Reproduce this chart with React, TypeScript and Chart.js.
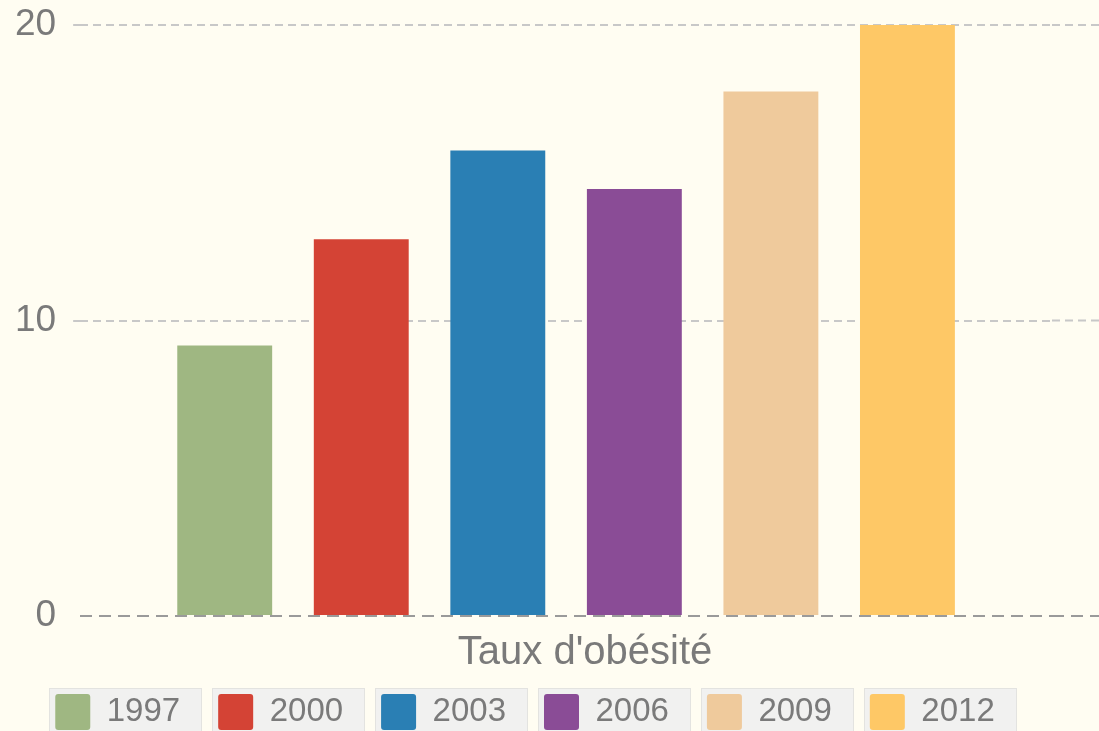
import React, { useEffect, useRef } from "react";
import { Chart, registerables } from "chart.js";

Chart.register(...registerables);

const categories = ["Taux d'obésité"];
const seriesYears = ["1997", "2000", "2003", "2006", "2009", "2012"];
const seriesValues = [9.15, 12.75, 15.75, 14.45, 17.75, 20.05];
const seriesColors = ["#9fb782", "#d44335", "#2a7fb4", "#8a4c96", "#efca9c", "#fec866"];
const yTicks = [0, 10, 20];

const BG = "#fffdf2";
const FONT = "'Liberation Sans', Arial, sans-serif";

const bgPlugin = {
  id: "bgAndLegendBoxes",
  beforeDraw(chart: any) {
    const { ctx, width, height } = chart;
    ctx.save();
    ctx.fillStyle = BG;
    ctx.fillRect(0, 0, width, height);
    const legend = chart.legend;
    if (legend && legend.legendHitBoxes) {
      legend.legendHitBoxes.forEach((hb: any) => {
        const x = Math.round(hb.left - 6) + 0.5;
        const y = Math.round(hb.top - 6) + 0.5;
        const w = Math.round(hb.width + 27);
        const h = height - y + 10;
        ctx.fillStyle = "#f1f1f0";
        ctx.fillRect(x, y, w, h);
        ctx.strokeStyle = "#e3e3e0";
        ctx.lineWidth = 1;
        ctx.strokeRect(x, y, w, h);
      });
    }
    ctx.restore();
  },
  afterDatasetsDraw(chart: any) {
    // continue the y grid lines to the right edge of the canvas
    const { ctx, chartArea, width } = chart;
    const yScale = chart.scales.y;
    ctx.save();
    yScale.ticks.forEach((t: any) => {
      const py = yScale.getPixelForValue(t.value);
      const isZero = t.value === 0;
      ctx.strokeStyle = isZero ? "#9a9a9a" : "#c8c8c8";
      ctx.lineWidth = 2;
      ctx.setLineDash(isZero ? [12, 7] : [8, 5]);
      ctx.beginPath();
      ctx.moveTo(chartArea.right, py);
      ctx.lineTo(width, py);
      ctx.stroke();
    });
    ctx.restore();
  },
};

export default function App() {
  const ref = useRef<HTMLCanvasElement | null>(null);

  useEffect(() => {
    if (!ref.current) return;
    const chart = new Chart(ref.current, {
      type: "bar",
      data: {
        labels: categories,
        datasets: seriesYears.map((year, i) => ({
          label: year,
          data: [seriesValues[i]],
          backgroundColor: seriesColors[i],
          borderWidth: 0,
        })),
      },
      options: {
        animation: false,
        responsive: false,
        maintainAspectRatio: false,
        layout: { padding: { left: -2, right: 47, top: 25, bottom: -9 } },
        datasets: {
          bar: { categoryPercentage: 0.843, barPercentage: 0.695 },
        },
        plugins: {
          legend: {
            position: "bottom",
            title: {
              display: true,
              text: "",
              font: { size: 10, lineHeight: 1 },
              padding: { top: 0, bottom: -44 },
            },
            labels: {
              boxWidth: 35,
              boxHeight: 36,
              padding: 38,
              color: "#7a7a7a",
              font: { family: FONT, size: 33 },
              useBorderRadius: true,
              borderRadius: 3,
            },
          },
          tooltip: { enabled: false },
        },
        scales: {
          x: {
            grid: { display: false, drawTicks: false },
            border: { display: false },
            ticks: {
              color: "#7a7a7a",
              padding: 36,
              labelOffset: 19,
              font: { family: FONT, size: 40, lineHeight: 0.05 },
            },
          },
          y: {
            min: 0,
            max: 20,
            afterBuildTicks: (scale: any) => {
              scale.ticks = yTicks.map((v) => ({ value: v }));
            },
            grid: {
              color: (ctx: any) => (ctx.tick && ctx.tick.value === 0 ? "#9a9a9a" : "#c8c8c8"),
              lineWidth: 2,
              tickLength: 7,
              tickColor: (ctx: any) => (ctx.tick && ctx.tick.value === 0 ? "rgba(0,0,0,0)" : "#c8c8c8"),
            },
            border: {
              display: false,
              dash: (ctx: any) => (ctx.tick && ctx.tick.value === 0 ? [12, 7] : [8, 5]),
            },
            ticks: {
              color: "#7a7a7a",
              padding: 17,
              font: { family: FONT, size: 37, lineHeight: 0.4 },
            },
          },
        },
      },
      plugins: [bgPlugin],
    });
    return () => chart.destroy();
  }, []);

  return (
    <div style={{ position: "fixed", left: 0, top: 0, width: 1099, height: 731, background: BG }}>
      <canvas ref={ref} width={1099} height={731} style={{ display: "block" }} />
    </div>
  );
}
